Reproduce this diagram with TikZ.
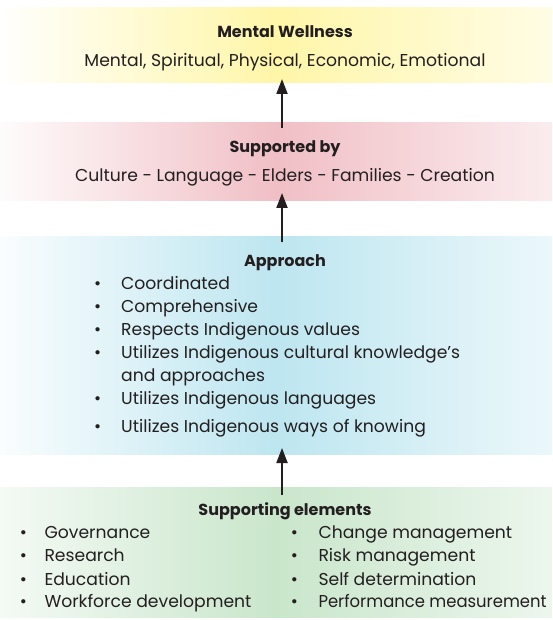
\documentclass[tikz,border=0pt]{standalone}
\usepackage{fontspec}
\setmainfont{Poppins}
\usetikzlibrary{arrows.meta}
\definecolor{txt}{HTML}{231F20}
\definecolor{cY}{HTML}{FFF6A8}
\definecolor{cR}{HTML}{F0BFC5}
\definecolor{cB}{HTML}{BDE6F0}
\definecolor{cG}{HTML}{C9E6CB}
\begin{document}
\begin{tikzpicture}[x=1pt,y=-1pt,
  band/.style={draw=none, minimum width=552pt, inner sep=0pt, outer sep=0pt, rectangle},
  ttl/.style={font=\bfseries\fontsize{16}{19}\selectfont, text=txt, inner sep=0pt, anchor=base},
  body/.style={font=\fontsize{17.2}{21}\selectfont, text=txt, inner sep=0pt, anchor=base west},
  ctr/.style={body, anchor=base},
  bul/.style={font=\fontsize{17.2}{21}\selectfont, text=txt, inner sep=0pt, anchor=base},
  arr/.style={-{Triangle[length=15pt,width=11pt]}, line width=2pt, draw=txt}]
\useasboundingbox (0,0) rectangle (552,620);
% bands
\node[band, minimum height=75pt, left color=cY!3, right color=cY!30, middle color=cY] (yel) at (276,45.5) {};
\node[band, minimum height=78pt, left color=cR!5, right color=cR!30, middle color=cR] (red) at (276,162) {};
\node[band, minimum height=218pt, left color=cB!8, right color=cB!30, middle color=cB] (blu) at (276,345) {};
\node[band, minimum height=130pt, left color=cG!20, right color=cG!35, middle color=cG] (grn) at (276,552) {};
% arrows
\draw[arr] ([xshift=6pt,yshift=-5pt]red.north) -- ([xshift=6pt,yshift=4pt]yel.south);
\draw[arr] ([xshift=6pt,yshift=-6pt]blu.north) -- ([xshift=6pt,yshift=8pt]red.south);
\draw[arr] ([xshift=6pt,yshift=-8pt]grn.north) -- ([xshift=6pt,yshift=6pt]blu.south);
% top
\node[ttl] (t1) at (285,38) {Mental Wellness};
\node[ctr] (s1) at (285,67) {Mental, Spiritual, Physical, Economic, Emotional};
\node[ttl] (t2) at (285,153) {Supported by};
\node[ctr] (s2) at (285,182) {Culture - Language - Elders - Families - Creation};
% approach
\node[ttl] (t3) at (285,266) {Approach};
\foreach \i/\yy/\tx in {1/289/Coordinated, 2/312/Comprehensive, 3/335/Respects Indigenous values, 4/358/Utilizes Indigenous cultural knowledge's, 5/404/Utilizes Indigenous languages, 6/432/Utilizes Indigenous ways of knowing}{
  \node[bul] (ab\i) at (97.7,\yy) {\textbullet};
  \node[body] (at\i) at (121,\yy) {\tx};
}
\node[body] (at4b) at (121,381) {and approaches};
% supporting elements
\node[ttl] (t4) at (285,515) {Supporting elements};
\foreach \i/\yy/\tl/\tr in {1/538/Governance/Change management, 2/561.5/Research/Risk management, 3/585/Education/Self determination, 4/607.5/Workforce development/{\scalebox{0.955}[1]{Performance measurement}}}{
  \node[bul] (lb\i) at (23.3,\yy) {\textbullet};
  \node[body] (lt\i) at (44.3,\yy) {\tl};
  \node[bul] (rb\i) at (294.3,\yy) {\textbullet};
  \node[body] (rt\i) at (318.3,\yy) {\tr};
}
\end{tikzpicture}
\end{document}
